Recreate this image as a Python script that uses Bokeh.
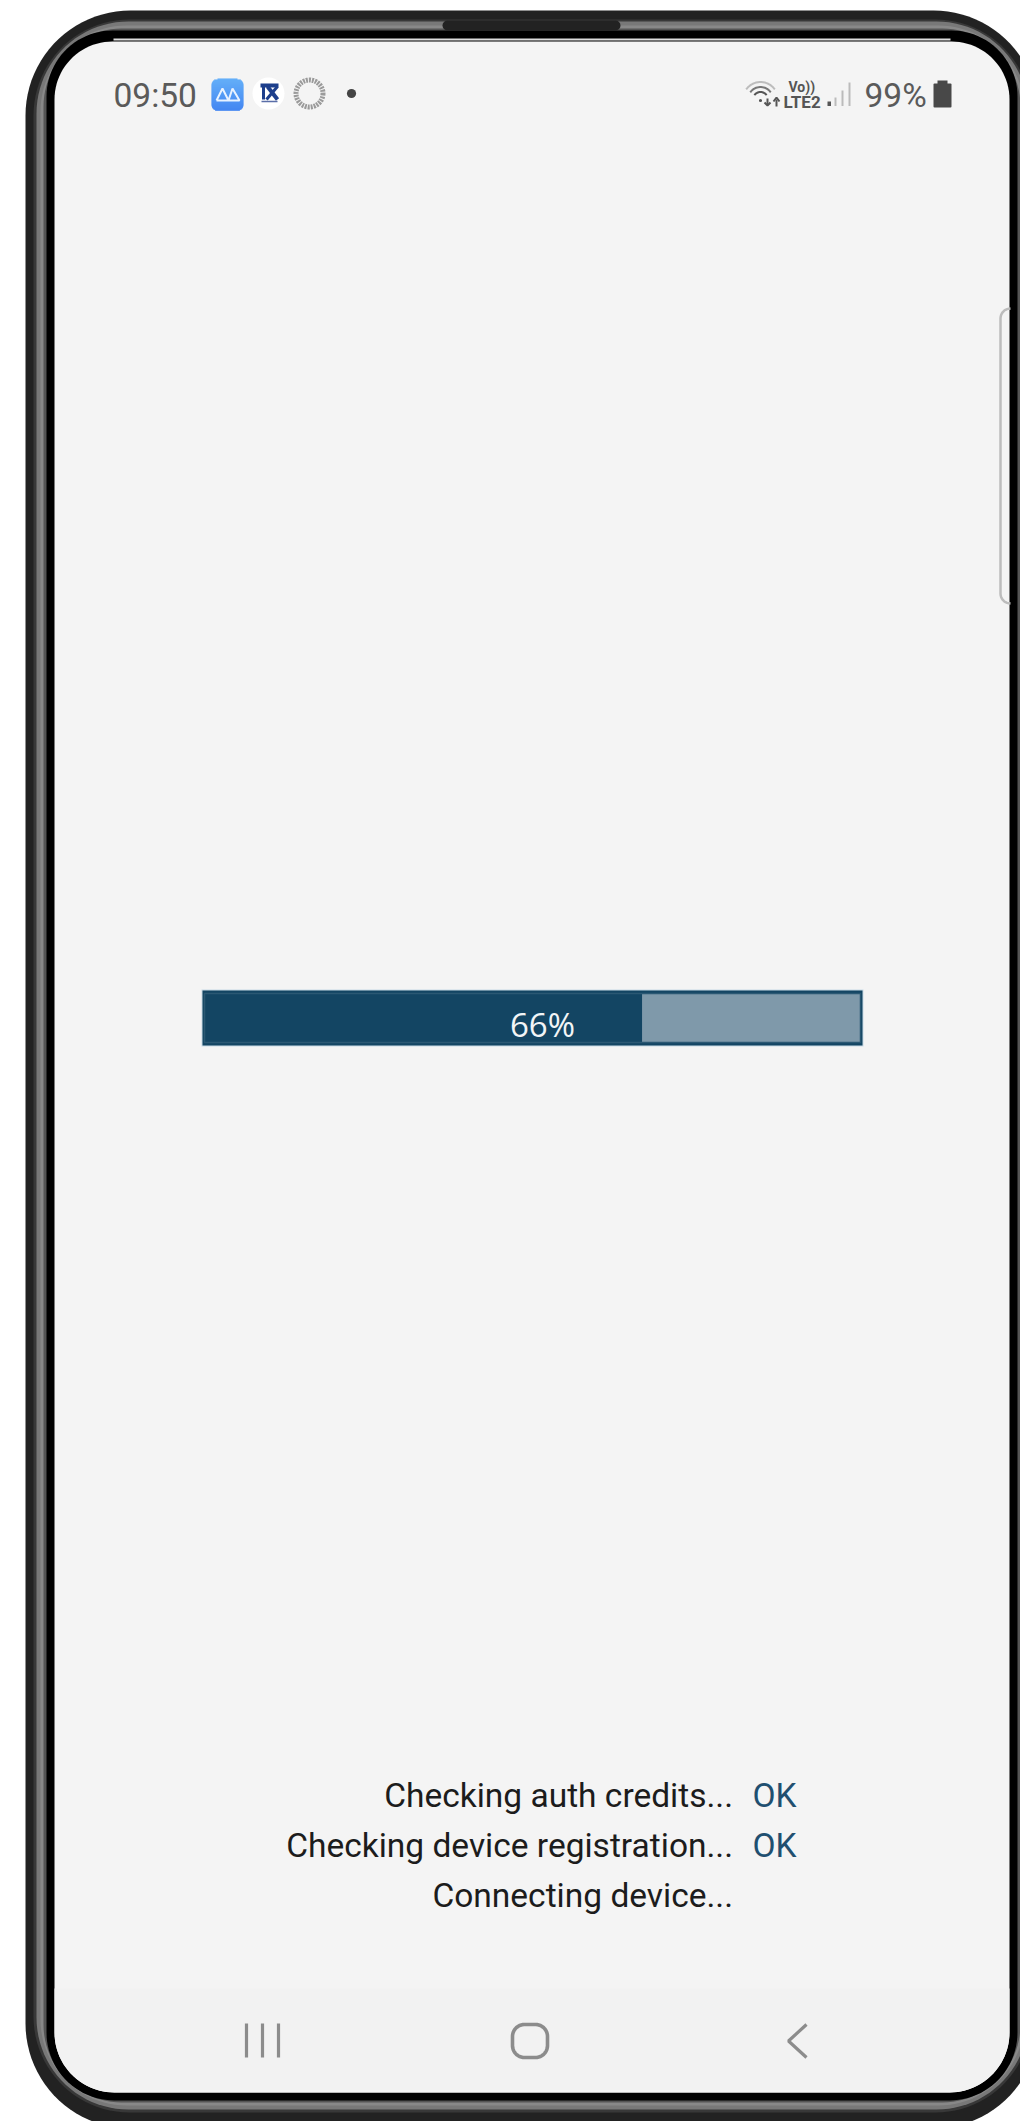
import numpy as np
from bokeh.plotting import figure
from bokeh.models import Range1d
from bokeh.core.properties import value
from bokeh.embed import file_html
from bokeh.resources import INLINE

# ---- content ----
progress_segments = [66.7, 33.3]
progress_label = ["66%"]
status_labels = ["Checking auth credits...", "Checking device registration...", "Connecting device..."]
status_results = ["OK", "OK"]
clock_text = ["09:50"]
battery_text = ["99%"]
voice_text = ["Vo))"]
network_text = ["LTE2"]

# ---- page geometry ----
W, H = 1020, 2121
p = figure(width=W, height=H, x_range=Range1d(0, W), y_range=Range1d(H, 0),
           output_backend="svg", toolbar_location=None, min_border=0,
           background_fill_color="#ffffff", border_fill_color="#ffffff", outline_line_color=None)
p.axis.visible = False
p.grid.visible = False
LIFT = 0.35  # the svg text baseline sits lower than the requested y by this share of the font size


def label(x, y, text, size, color, align="left", font="Roboto", style="normal"):
    p.text(x, [v - LIFT * size for v in y], text=text, text_font=value(font), text_font_size=f"{size}px",
           text_font_style=style, text_color=color, text_align=align, text_baseline="alphabetic")


def corner(cx, cy, rx, ry, a0, a1, n=24):
    t = np.radians(np.linspace(a0, a1, n))
    return cx + rx * np.cos(t), cy + ry * np.sin(t)


def rrect(x0, x1, y0, y1, rt, rb):
    parts = [corner(x0 + rt, y0 + rt, rt, rt, 180, 270),
             corner(x1 - rt, y0 + rt, rt, rt, 270, 360),
             corner(x1 - rb, y1 - rb, rb, rb, 0, 90),
             corner(x0 + rb, y1 - rb, rb, rb, 90, 180)]
    return np.concatenate([a for a, _ in parts]), np.concatenate([b for _, b in parts])


def fill(x0, x1, y0, y1, rt, rb, color):
    xs, ys = rrect(x0, x1, y0, y1, rt, rb)
    p.patch(xs, ys, fill_color=color, line_color=None)


# ---- phone body, outside in ----
bands = [
    (25, 1038, 10, 2128, 105, 105, "#222222"),
    (33, 1031, 19, 2112, 96, 96, "#383838"),
    (36, 1028, 21, 2109, 92, 92, "#787878"),
    (40, 1024, 25, 2105, 86, 86, "#888888"),
    (43, 1020, 28, 2102, 78, 78, "#555555"),
    (46, 1017, 30, 2100, 66, 68, "#000000"),
    (54, 1009, 41, 2092, 58, 60, "#f4f4f4"),
]
for b in bands:
    fill(*b)

# notch and bright line under it
p.quad(left=[442], right=[620], top=[20], bottom=[30], fill_color="#222222", line_color=None,
       border_radius=5)
p.line([113, 950], [39, 39], line_color="#dddddd", line_width=2)

# slightly darker navigation bar
xs, ys = rrect(54, 1009, 1988, 2092, 0, 60)
p.patch(xs, ys, fill_color="#f2f2f2", line_color=None)

# side handle
ax, ay = corner(1010, 318, 10, 10, 270, 180, 10)
bx, by = corner(1010, 593, 10, 10, 180, 90, 10)
p.line(np.concatenate([ax, bx]), np.concatenate([ay, by]), line_color="#bcbcbc", line_width=2.5)

# ---- status bar ----
label([113], [107], clock_text, 33.5, "#5a5a5a")

# blue app icon
rows = np.arange(78, 110)
inset = np.where(rows < 84, 6 - np.sqrt(np.maximum(36 - (84 - rows) ** 2, 0)),
                 np.where(rows >= 104, 6 - np.sqrt(np.maximum(36 - (rows - 103.5) ** 2, 0)), 0))
tt = (rows - 78) / 31
cols = ["#%02x%02x%02x" % (int(80 - 36 * t), int(165 - 45 * t), int(250 - 8 * t)) for t in tt]
p.quad(left=211 + inset, right=243 - inset, top=rows, bottom=rows + 1.2, fill_color=cols, line_color=None)
p.line([216, 222, 228, 232, 239, 216], [100, 88, 100, 88, 100, 100], line_color="#e8f2ff", line_width=2)

# second app icon
p.circle([268], [93], radius=16, fill_color="#ffffff", line_color=None)
p.quad(left=[260], right=[278], top=[83], bottom=[87], fill_color="#1d3f8c", line_color=None)
p.line([267, 277], [86, 99], line_color="#1d3f8c", line_width=4)
p.line([277, 266], [86, 99], line_color="#1d3f8c", line_width=3)
p.line([263, 263], [86, 99], line_color="#1d3f8c", line_width=3)
p.line([261, 277], [101, 101], line_color="#5a6ea8", line_width=1.5)

# third app icon, dashed ring
ring = np.radians(np.linspace(0, 360, 73))
p.line(309 + 13.5 * np.cos(ring), 93 + 13.5 * np.sin(ring), line_color="#9a9a9a", line_width=5, line_dash="2 1")

# notification dot
p.circle([351], [93], radius=4.6, fill_color="#444444", line_color=None)

# wifi
for r, c, w in [(17.5, "#bdbdbd", 2), (12.5, "#777777", 2), (7.5, "#555555", 2)]:
    ang = np.radians(np.linspace(215, 325, 20))
    p.line(760 + r * np.cos(ang), 99 + r * np.sin(ang), line_color=c, line_width=w)
p.circle([760], [100], radius=1.6, fill_color="#555555", line_color=None)
p.line([767, 767], [98, 104], line_color="#555555", line_width=2)
p.line([764, 767, 770], [102, 105, 102], line_color="#555555", line_width=2)
p.line([776, 776], [106, 99], line_color="#555555", line_width=2)
p.line([773, 776, 779], [101, 97, 101], line_color="#555555", line_width=2)

label([788], [91], voice_text, 14, "#555555", style="bold")
label([783], [107], network_text, 17, "#555555", style="bold")

# signal bars
p.quad(left=[827], right=[830.5], top=[101], bottom=[105.5], fill_color="#555555", line_color=None)
p.quad(left=[834, 841, 848], right=[836, 843, 850], top=[97, 90, 82], bottom=[105.5, 105.5, 105.5],
       fill_color="#bbbbbb", line_color=None)

label([864], [106.5], battery_text, 33.5, "#5a5a5a")
p.quad(left=[933], right=[951], top=[83], bottom=[107], fill_color="#484848", line_color=None, border_radius=1)
p.quad(left=[937], right=[947], top=[80], bottom=[84], fill_color="#484848", line_color=None)

# ---- progress bar, drawn through its own 0-100 scale ----
track_left, track_right = 204.0, 860.0
per_pct = (track_right - track_left) / 100
p.extra_x_ranges = {"pct": Range1d((0 - track_left) / per_pct, (W - track_left) / per_pct)}
p.quad(left=[201], right=[863], top=[989], bottom=[1046], fill_color="#c8dae5", line_color=None)
p.quad(left=[202], right=[862], top=[990], bottom=[1045], fill_color="#134563", line_color=None)
lefts = np.cumsum([0] + progress_segments[:-1])
rights = np.cumsum(progress_segments)
p.hbar(y=[1017.5, 1017.5], height=49, left=lefts, right=rights, x_range_name="pct",
       fill_color=["#134563", "#7f99aa"], line_color=None)
p.quad(left=[204], right=[860], top=[993], bottom=[1042], fill_color=None, line_color="#2b5873", line_width=1.5)
label([542], [1035.5], progress_label, 33, "#f2f5f7", align="center", font="Open Sans")

# ---- status lines ----
lines_y = [1807, 1857, 1907]
label([732.5] * 3, lines_y, status_labels, 33.5, "#1c1c1c", align="right")
label([752] * 2, lines_y[:2], status_results, 33.5, "#1f4f70")

# ---- navigation icons ----
for x in (246, 262, 278):
    p.line([x, x], [2023, 2057], line_color="#8c8c8c", line_width=3.2)
xs, ys = rrect(512, 547, 2024, 2057, 12, 12)
p.patch(xs, ys, fill_color=None, line_color="#8c8c8c", line_width=3.6)
p.line([806, 788, 806], [2024, 2040.5, 2057], line_color="#8c8c8c", line_width=3.2)

open("out.html", "w").write(file_html(p, INLINE))
